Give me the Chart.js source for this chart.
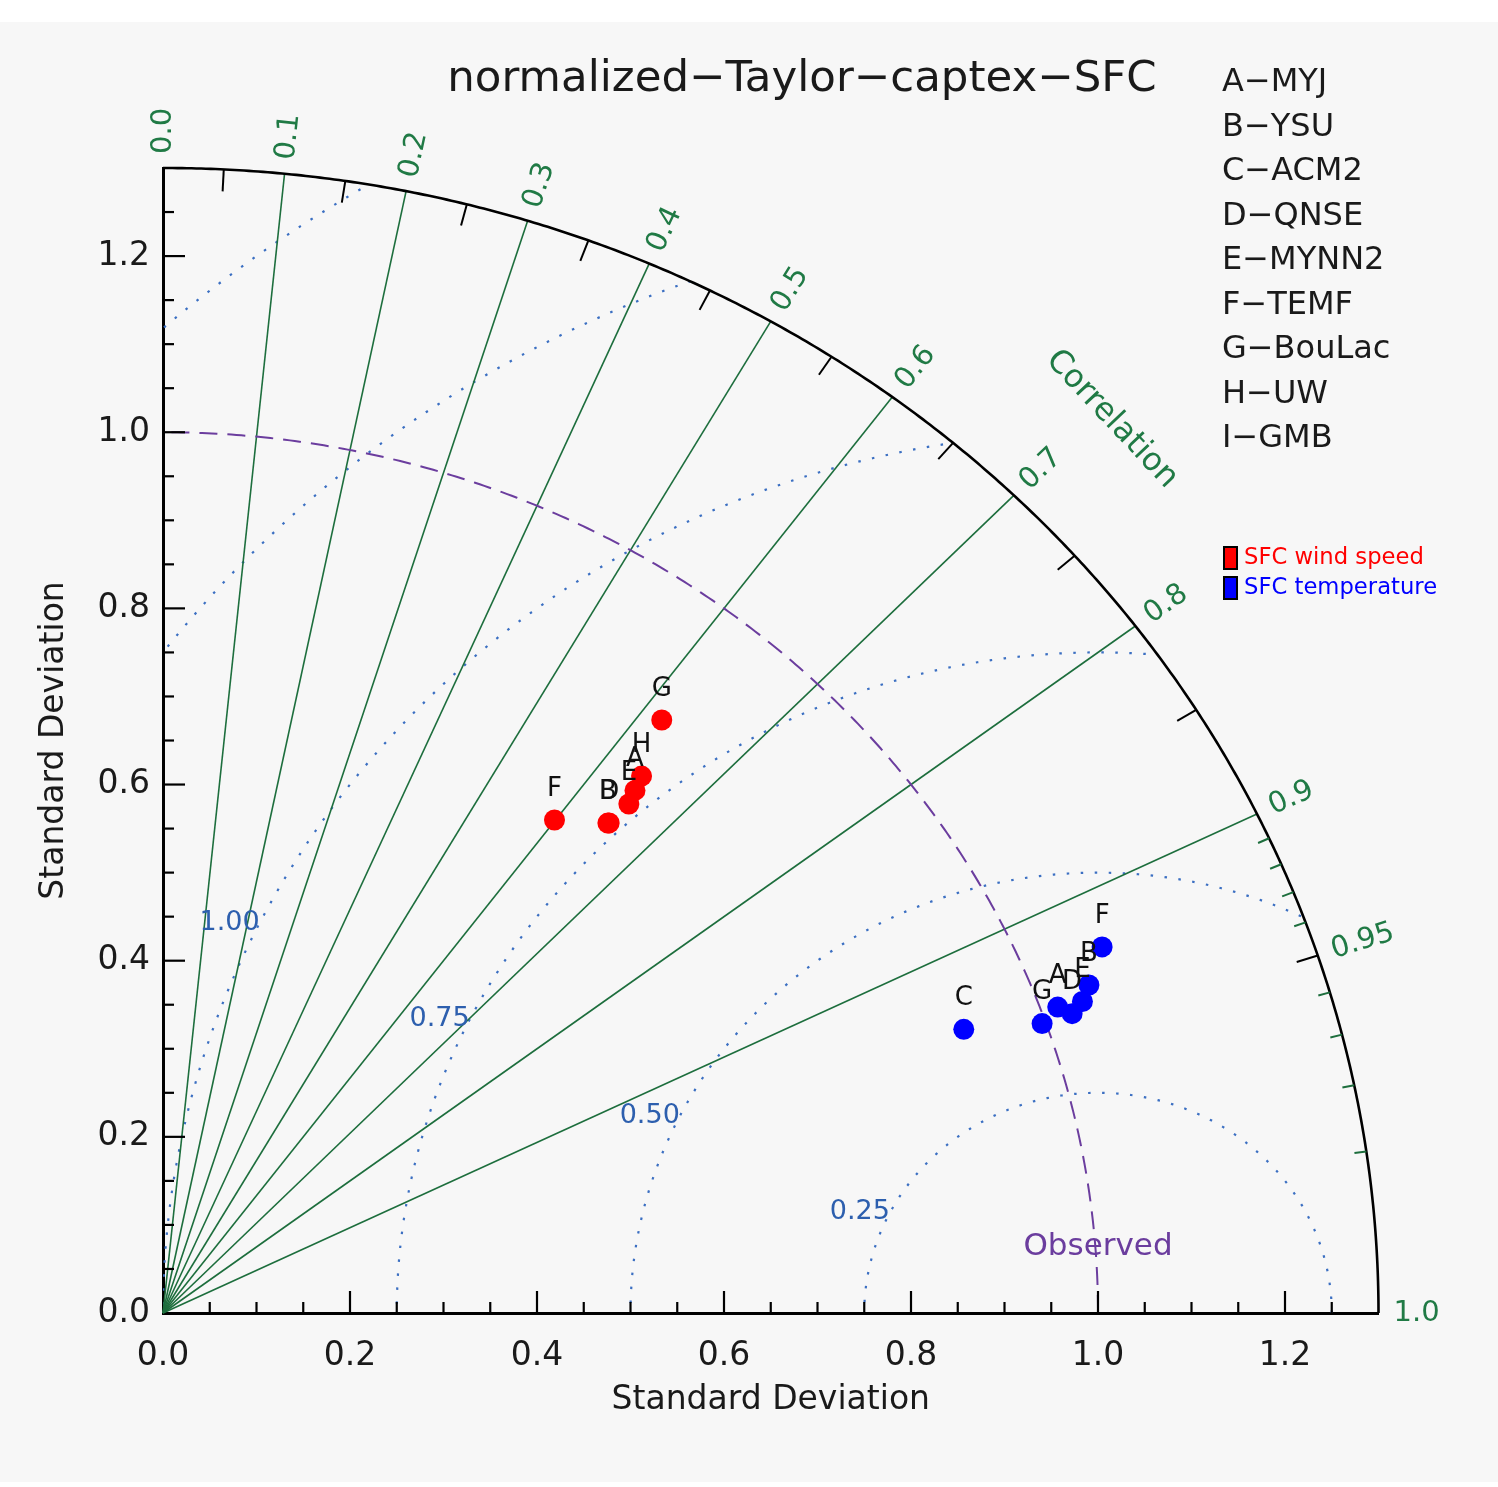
<!DOCTYPE html>
<html><head><meta charset="utf-8">
<script src="https://cdn.jsdelivr.net/npm/chart.js@4.4.1/dist/chart.umd.min.js"></script>
<style>html,body{margin:0;padding:0;background:#ffffff;}canvas{display:block;}</style>
</head><body>
<canvas id="c" width="1498" height="1487"></canvas>
<script>
// ---------------- data ----------------
const chartTitle = 'normalized\u2212Taylor\u2212captex\u2212SFC';
const modelLetters = ['A','B','C','D','E','F','G','H','I'];
const modelNames = ['MYJ','YSU','ACM2','QNSE','MYNN2','TEMF','BouLac','UW','GMB'];
const seriesNames = ['SFC wind speed','SFC temperature'];
const seriesColors = ['#ff0000','#0000ff'];
// normalized standard deviation and correlation of each model
const windLetters = ['A','B','D','E','F','G','H'];
const windStd  = [0.779,0.732,0.733,0.763,0.699,0.859,0.796];
const windCorr = [0.648,0.650,0.651,0.653,0.599,0.621,0.643];
const tempLetters = ['A','B','C','D','E','F','G'];
const tempStd  = [1.018,1.058,0.915,1.030,1.045,1.087,0.996];
const tempCorr = [0.940,0.936,0.936,0.944,0.941,0.924,0.944];
// diagram furniture
const stdTicks = [0,0.2,0.4,0.6,0.8,1.0,1.2];
const stdMax = 1.3;
const stdMinorStep = 0.05;
const refStd = 1.0;
const corrLines = [0.1,0.2,0.3,0.4,0.5,0.6,0.7,0.8,0.9];
const corrLabels = ['0.0','0.1','0.2','0.3','0.4','0.5','0.6','0.7','0.8','0.9','0.95','1.0'];
const corrMajorTicks = [0.05,0.15,0.25,0.35,0.45,0.55,0.65,0.75,0.85,0.95];
const corrMinorTicks = [0.91,0.92,0.93,0.94,0.96,0.97,0.98,0.99];
const rmsRadii = [0.25,0.5,0.75,1.0,1.25,1.5];
const rmsLabels = ['0.25','0.50','0.75','1.00'];

// ---------------- styles ----------------
const FONT = "'DejaVu Sans', sans-serif";
const GREEN_LINE = '#1d6e3d';
const GREEN_TEXT = '#207a45';
const BLUE_DOT = '#3b6fc2';
const BLUE_TEXT = '#2d5fae';
const PURPLE = '#6b3d9e';
const INK = '#1a1a1a';

function toXY(std, corr){ return {x: std*corr, y: std*Math.sqrt(Math.max(0,1-corr*corr))}; }

function P(chart, x, y){ return [chart.scales.x.getPixelForValue(x), chart.scales.y.getPixelForValue(y)]; }
function polar(chart, r, th){ return P(chart, r*Math.cos(th), r*Math.sin(th)); }

function sectorPath(ctx, chart){
  ctx.beginPath();
  const o = P(chart,0,0); ctx.moveTo(o[0],o[1]);
  for (let i=0;i<=300;i++){ const p = polar(chart, stdMax, Math.PI/2*i/300); ctx.lineTo(p[0],p[1]); }
  ctx.closePath();
}

function text(ctx, s, x, y, font, color, align, base, rot){
  ctx.save(); ctx.translate(x,y); if (rot) ctx.rotate(rot);
  ctx.font = font; ctx.fillStyle = color; ctx.textAlign = align||'left'; ctx.textBaseline = base||'middle';
  ctx.fillText(s,0,0); ctx.restore();
}

const taylorPlugin = {
  id:'taylor',
  beforeDraw(chart){
    const ctx = chart.ctx;
    ctx.save(); ctx.fillStyle = '#f7f7f7'; ctx.fillRect(0,22,chart.width,1460); ctx.restore();
  },
  beforeDatasetsDraw(chart){
    const ctx = chart.ctx;
    ctx.save();
    // RMS dotted arcs, clipped to the quarter disc
    ctx.save(); sectorPath(ctx, chart); ctx.clip();
    ctx.strokeStyle = BLUE_DOT; ctx.lineWidth = 2.2; ctx.setLineDash([2.5,11.5]);
    rmsRadii.forEach(r=>{
      ctx.beginPath();
      for (let i=0;i<=400;i++){ const ph = Math.PI*i/400; const p = P(chart, refStd + r*Math.cos(ph), r*Math.sin(ph)); if(i) ctx.lineTo(p[0],p[1]); else ctx.moveTo(p[0],p[1]); }
      ctx.stroke();
    });
    ctx.restore();
    // correlation rays
    ctx.strokeStyle = GREEN_LINE; ctx.lineWidth = 1.6; ctx.setLineDash([]);
    const o = P(chart,0,0);
    corrLines.forEach(c=>{ const p = polar(chart, stdMax, Math.acos(c)); ctx.beginPath(); ctx.moveTo(o[0],o[1]); ctx.lineTo(p[0],p[1]); ctx.stroke(); });
    // observed std arc
    ctx.strokeStyle = PURPLE; ctx.lineWidth = 2; ctx.setLineDash([18,10]);
    ctx.beginPath();
    for (let i=0;i<=300;i++){ const p = polar(chart, refStd, Math.PI/2*i/300); if(i) ctx.lineTo(p[0],p[1]); else ctx.moveTo(p[0],p[1]); }
    ctx.stroke(); ctx.setLineDash([]);
    // outer arc
    ctx.strokeStyle = '#000'; ctx.lineWidth = 2.6;
    ctx.beginPath();
    for (let i=0;i<=400;i++){ const p = polar(chart, stdMax, Math.PI/2*i/400); if(i) ctx.lineTo(p[0],p[1]); else ctx.moveTo(p[0],p[1]); }
    ctx.stroke();
    // arc ticks
    const arcTick = (c, len, col) => {
      const th = Math.acos(c); const a = polar(chart, stdMax, th); const b = polar(chart, stdMax-0.1, th);
      const dx=b[0]-a[0], dy=b[1]-a[1], d=Math.hypot(dx,dy);
      ctx.strokeStyle = col; ctx.beginPath(); ctx.moveTo(a[0],a[1]); ctx.lineTo(a[0]+dx/d*len, a[1]+dy/d*len); ctx.stroke();
    };
    ctx.lineWidth = 2;
    corrMajorTicks.forEach(c=>arcTick(c,22,'#000'));
    corrMinorTicks.forEach(c=>arcTick(c,12,GREEN_LINE));
    // axis ticks (inward)
    ctx.strokeStyle = '#000'; ctx.lineWidth = 2.2;
    const nMinor = Math.round(stdMax/stdMinorStep);
    for (let k=1;k<nMinor;k++){
      const v = k*stdMinorStep; const major = stdTicks.some(t=>Math.abs(t-v)<1e-6);
      const len = major?22:11;
      const px = P(chart, v, 0); ctx.beginPath(); ctx.moveTo(px[0],px[1]); ctx.lineTo(px[0],px[1]-len); ctx.stroke();
      const py = P(chart, 0, v); ctx.beginPath(); ctx.moveTo(py[0],py[1]); ctx.lineTo(py[0]+len,py[1]); ctx.stroke();
    }
    ctx.restore();
  },
  afterDraw(chart){
    const ctx = chart.ctx;
    // correlation labels
    corrLabels.forEach(s=>{
      const c = parseFloat(s); const th = Math.acos(c);
      const a = polar(chart, stdMax+0.016, th); const b = polar(chart, stdMax+0.1, th);
      const rot = Math.atan2(b[1]-a[1], b[0]-a[0]);
      text(ctx, s, a[0], a[1], '29px '+FONT, GREEN_TEXT, 'left', 'middle', rot);
    });
    { const a = polar(chart, 1.435, Math.PI/4); const b = polar(chart, 1.5, Math.PI/4);
      const rot = Math.atan2(b[1]-a[1], b[0]-a[0]) + Math.PI/2;
      text(ctx, 'Correlation', a[0], a[1], '32px '+FONT, GREEN_TEXT, 'center', 'middle', rot); }
    // RMS labels
    const phi = 154*Math.PI/180;
    rmsLabels.forEach(s=>{
      const r = parseFloat(s); const p = P(chart, refStd + r*Math.cos(phi), r*Math.sin(phi));
      text(ctx, s, p[0]+2, p[1]+3, '27px '+FONT, BLUE_TEXT, 'right', 'alphabetic', 0);
    });
    // observed label
    { const p = P(chart, refStd, 0.075); text(ctx, 'Observed', p[0], p[1], '31px '+FONT, PURPLE, 'center', 'middle', 0); }
    // point letters
    chart.data.datasets.forEach((ds, di)=>{
      const meta = chart.getDatasetMeta(di);
      meta.data.forEach((el, i)=>{ text(ctx, ds.letters[i], el.x, el.y-31, '26px '+FONT, '#111', 'center', 'middle', 0); });
    });
    // title
    text(ctx, chartTitle, 802, 80, '43.5px '+FONT, INK, 'center', 'middle', 0);
    // model key
    modelLetters.forEach((l,i)=>{ text(ctx, l+'\u2212'+modelNames[i], 1222, 83+i*44.5, '32px '+FONT, INK, 'left', 'middle', 0); });
    // series key
    seriesNames.forEach((s,i)=>{
      const y = 558 + i*30;
      ctx.save(); ctx.fillStyle = seriesColors[i]; ctx.fillRect(1224, y-11, 13, 22);
      ctx.strokeStyle = '#000'; ctx.lineWidth = 2; ctx.strokeRect(1224, y-11, 13, 22); ctx.restore();
      text(ctx, s, 1244, y, '22.7px '+FONT, seriesColors[i], 'left', 'middle', 0);
    });
  }
};

function pts(stds, corrs){ return stds.map((s,i)=>toXY(s, corrs[i])); }

const axisCommon = () => ({
  type:'linear', min:0, max:stdMax,
  afterBuildTicks: s => { s.ticks = stdTicks.map(v=>({value:v})); },
  grid:{display:false, drawOnChartArea:false, drawTicks:false},
  border:{display:true, color:'#000', width:3},
});

new Chart(document.getElementById('c'), {
  type:'scatter',
  data:{ datasets:[
    { label: seriesNames[0], letters: windLetters, data: pts(windStd, windCorr), backgroundColor: seriesColors[0], borderWidth:0, pointRadius:10.5, pointHoverRadius:10.5 },
    { label: seriesNames[1], letters: tempLetters, data: pts(tempStd, tempCorr), backgroundColor: seriesColors[1], borderWidth:0, pointRadius:10.5, pointHoverRadius:10.5 }
  ]},
  options:{
    responsive:false, maintainAspectRatio:false, animation:false, events:[],
    layout:{ padding:{ left:0, top:168, right:119.5, bottom:0 } },
    plugins:{ legend:{display:false}, tooltip:{enabled:false}, title:{display:false} },
    scales:{
      x: Object.assign(axisCommon(), {
        afterFit: s => { s.height = 174; },
        ticks:{ color:INK, font:{family:FONT, size:33}, padding:24, maxRotation:0, autoSkip:false, callback: v => Number(v).toFixed(1) },
        title:{ display:true, text:'Standard Deviation', color:INK, font:{family:FONT, size:33}, padding:{top:0, bottom:67} }
      }),
      y: Object.assign(axisCommon(), {
        afterFit: s => { s.width = 163; },
        ticks:{ color:INK, font:{family:FONT, size:33}, padding:13, autoSkip:false, callback: v => Number(v).toFixed(1) },
        title:{ display:true, text:'Standard Deviation', color:INK, font:{family:FONT, size:33}, padding:{top:35, bottom:0} }
      })
    }
  },
  plugins:[taylorPlugin]
});
</script>
</body></html>
